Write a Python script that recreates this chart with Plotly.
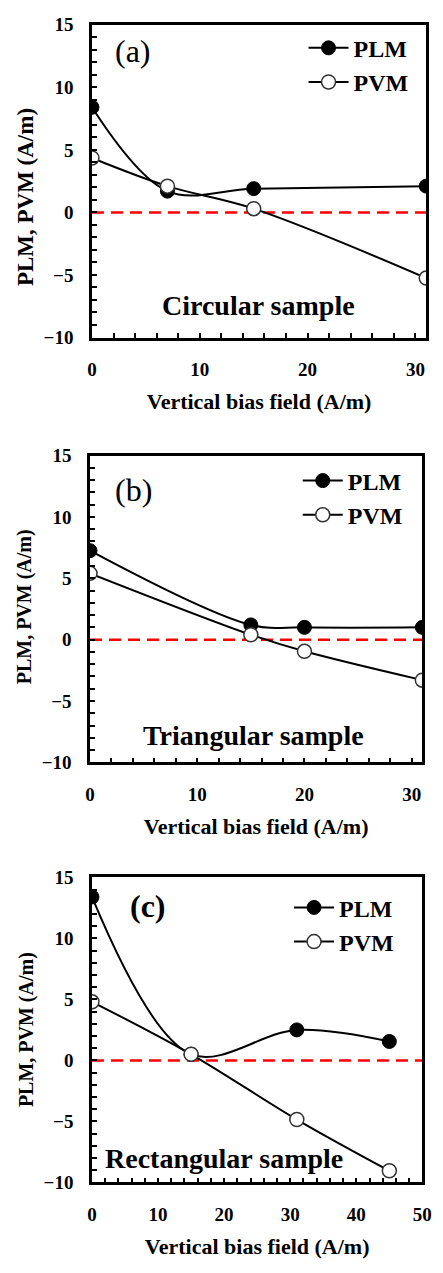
import plotly.graph_objects as go

# ---------------- data ----------------
field_a = [0, 7, 15, 31]
plm_a = [8.4, 1.7, 1.9, 2.1]
pvm_a = [4.35, 2.1, 0.3, -5.25]

field_b = [0, 15, 20, 31]
plm_b = [7.25, 1.2, 1.0, 1.0]
pvm_b = [5.4, 0.4, -0.95, -3.3]

field_c = [0, 15, 31, 45]
plm_c = [13.4, 0.5, 2.5, 1.55]
pvm_c = [4.8, 0.5, -4.85, -9.05]

panel_labels = ["(a)", "(b)", "(c)"]
sample_labels = ["Circular sample", "Triangular sample", "Rectangular sample"]
x_ranges = [[0, 31], [0, 31], [0, 50]]
y_range = [-10, 15]
x_title = "Vertical bias field (A/m)"
y_title = "PLM, PVM (A/m)"
series_names = ["PLM", "PVM"]

# ---------------- layout helpers ----------------
W, H = 443, 1273
FONT = "Liberation Serif"


def px(x):
    return x / W


def py(y):
    return 1 - y / H


# panel boxes in pixels: (left, right, top, bottom)
boxes = [(90, 436, 15, 333), (88, 432, 453, 765), (90, 432, 882, 1192)]
legend_pos = [(309, 16), (303, 456), (294, 890)]
label_pos = [(132, 42), (133, 488), (148, 911)]
sample_pos = [(262, 300), (257, 738), (227, 1168)]
ytitle_pos = [(22, 190, 23), (21, 607, 20), (23, 1037, 20)]

data = [(field_a, plm_a, pvm_a), (field_b, plm_b, pvm_b), (field_c, plm_c, pvm_c)]

fig = go.Figure()
layout = dict(
    width=W, height=H, margin=dict(l=0, r=0, t=0, b=0),
    paper_bgcolor="white", plot_bgcolor="white", showlegend=True,
)
annotations = []
shapes = []

for i, (xs, plm, pvm) in enumerate(data):
    n = "" if i == 0 else str(i + 1)
    xa, ya = "x" + n, "y" + n
    leg = "legend" + n
    fig.add_trace(go.Scatter(
        x=xs, y=plm, name=series_names[0], mode="lines+markers",
        xaxis=xa, yaxis=ya, legend=leg,
        line=dict(color="black", width=2, shape="spline", smoothing=1),
        marker=dict(symbol="circle", size=14, color="black",
                    line=dict(color="black", width=1)),
    ))
    fig.add_trace(go.Scatter(
        x=xs, y=pvm, name=series_names[1], mode="lines+markers",
        xaxis=xa, yaxis=ya, legend=leg,
        line=dict(color="black", width=2, shape="spline", smoothing=1),
        marker=dict(symbol="circle", size=14, color="white",
                    line=dict(color="#333333", width=1.5)),
    ))
    l, r, t, b = boxes[i]
    axis_common = dict(
        showline=True, linewidth=2.5, linecolor="black", mirror=True,
        showgrid=False, zeroline=False,
        ticks="inside", ticklen=5, tickwidth=1.5, tickcolor="black",
        tickfont=dict(family=FONT, size=19, color="black", weight="bold"),
    )
    layout["xaxis" + n] = dict(
        axis_common, domain=[px(l), px(r)], anchor=ya, range=x_ranges[i],
        tick0=0, dtick=10, ticklabelstandoff=13,
        minor=dict(dtick=2, ticks="inside", ticklen=5, tickwidth=1.5, tickcolor="black"),
        title=dict(text=x_title, standoff=15,
                   font=dict(family=FONT, size=22, color="black", weight="bold")),
    )
    layout["yaxis" + n] = dict(
        axis_common, domain=[py(b), py(t)], anchor=xa, range=y_range,
        tick0=0, dtick=5, ticklabelstandoff=12,
        minor=dict(dtick=1, ticks="inside", ticklen=5, tickwidth=1.5, tickcolor="black"),
    )
    lx, ly = legend_pos[i]
    layout[leg] = dict(
        x=px(lx), y=py(ly), xanchor="left", yanchor="top",
        bgcolor="rgba(0,0,0,0)", borderwidth=0, itemwidth=40,
        font=dict(family=FONT, size=24, color="black", weight="bold"),
        tracegroupgap=0,
    )
    shapes.append(dict(
        type="line", xref=xa + " domain", yref=ya, x0=0, x1=1, y0=0, y1=0,
        line=dict(color="#FF0000", width=2.5, dash="12px,7px"), layer="below",
    ))
    ax, ay = label_pos[i]
    annotations.append(dict(
        text=panel_labels[i], xref="paper", yref="paper", x=px(ax), y=py(ay),
        xanchor="center", yanchor="middle", showarrow=False,
        font=dict(family=FONT, size=32, color="black",
                  weight="bold" if i == 2 else "normal"),
    ))
    sx, sy = sample_pos[i]
    annotations.append(dict(
        text=sample_labels[i], xref="paper", yref="paper", x=px(sx), y=py(sy),
        xanchor="center", yanchor="middle", showarrow=False,
        font=dict(family=FONT, size=28, color="black", weight="bold"),
    ))
    tx, ty, ts = ytitle_pos[i]
    annotations.append(dict(
        text=y_title, xref="paper", yref="paper", x=px(tx), y=py(ty),
        xanchor="center", yanchor="middle", showarrow=False, textangle=-90,
        font=dict(family=FONT, size=ts, color="black", weight="bold"),
    ))

layout["annotations"] = annotations
layout["shapes"] = shapes
fig.update_layout(**layout)

fig.write_html("out.html", config={"displayModeBar": False},
               post_script="document.body.style.margin='0';")
